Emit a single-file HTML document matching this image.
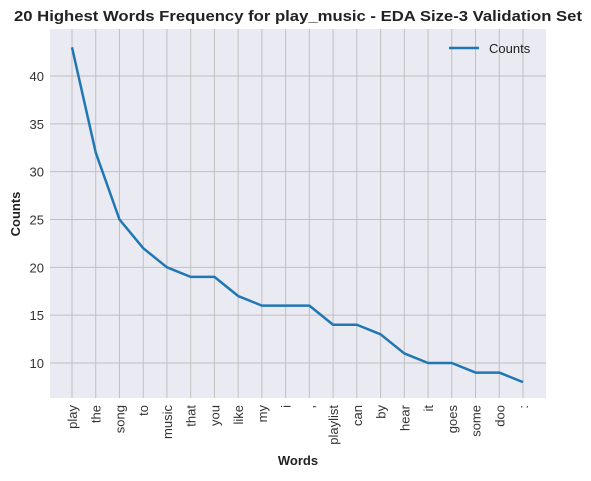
<!DOCTYPE html>
<html><head><meta charset="utf-8"><style>
body{margin:0;background:#fff;font-family:"Liberation Sans",Arial,sans-serif}
</style></head><body>
<svg id="c" width="591" height="476" xmlns="http://www.w3.org/2000/svg">
<text x="298" y="21" text-anchor="middle" font-weight="bold" font-size="15" textLength="568" lengthAdjust="spacingAndGlyphs" fill="#222">20 Highest Words Frequency for play_music - EDA Size-3 Validation Set</text>
<rect x="50" y="29" width="496" height="369" fill="#eaeaf2"/>
<g id="grid"></g><g id="ticks"></g>
<path id="line" fill="none" stroke="#1f77b4" stroke-width="2.5" stroke-linejoin="round"/>
<g>
<line x1="449" y1="48" x2="479" y2="48" stroke="#1f77b4" stroke-width="2.5"/>
<text x="489" y="53" font-size="13" fill="#222">Counts</text>
</g>
<text x="298" y="465" text-anchor="middle" font-weight="bold" font-size="13" fill="#222">Words</text>
<text transform="translate(20,214) rotate(-90)" text-anchor="middle" font-weight="bold" font-size="13" fill="#222">Counts</text>
</svg>
<script>
const words=["play","the","song","to","music","that","you","like","my","i",",","playlist","can","by","hear","it","goes","some","doo",":"];
const counts=[43,32,25,22,20,19,19,17,16,16,16,14,14,13,11,10,10,9,9,8];
const yTicks=[10,15,20,25,30,35,40];
const NS="http://www.w3.org/2000/svg";
const xs=i=>72+i*(523-72)/(words.length-1);
const ys=v=>363-(v-10)*(287/30);
const grid=document.getElementById('grid'),tk=document.getElementById('ticks');
function mk(t,a,p){const e=document.createElementNS(NS,t);for(const k in a)e.setAttribute(k,a[k]);p.appendChild(e);return e;}
yTicks.forEach(v=>{
 const l=mk('line',{x1:50,x2:546,y1:ys(v),y2:ys(v),stroke:'#c0c0c0','stroke-width':1},grid);
 
 
 const t=mk('text',{x:44,y:ys(v)+5,'text-anchor':'end','font-size':13,fill:'#333'},tk);
 t.textContent=v;
 
 
});
words.forEach((w,i)=>{
 const l=mk('line',{x1:xs(i),x2:xs(i),y1:29,y2:398,stroke:'#c0c0c0','stroke-width':1},grid);
 
 
 const t=mk('text',{transform:`translate(${xs(i)+5},405) rotate(-90)`,'text-anchor':'end','font-size':13,fill:'#333'},tk);
 t.textContent=w;
 
 
});
document.getElementById('line').setAttribute('d',counts.map((v,i)=>(i?'L':'M')+xs(i)+','+ys(v)).join(''));
</script>
</body></html>
